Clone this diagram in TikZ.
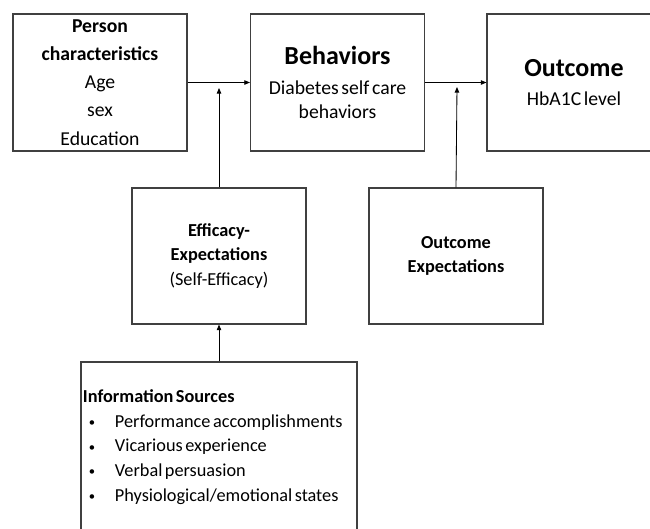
\documentclass[tikz,border=0pt]{standalone}
\usepackage{fontspec}
\setmainfont{Carlito}[WordSpace=0.6]
\usetikzlibrary{arrows.meta}

\tikzset{
  box/.style={draw=black!75, line width=0.8pt, align=center, inner sep=1.5pt,
    minimum width=4.35cm, minimum height=3.425cm},
  link/.style={-{Triangle[length=4pt,width=3.2pt]}, line width=0.6pt},
}
\newcommand{\bigfont}{\fontsize{14}{20}\selectfont}
\newcommand{\midfont}{\fontsize{13}{17.5}\selectfont}
\newcommand{\headfont}{\fontsize{18.5}{24}\selectfont}
\newcommand{\srcitem}[1]{\hspace*{0.15cm}\makebox[0.65cm][l]{\raisebox{0.6pt}{\fontsize{9}{9}\selectfont\textbullet}}#1}

\begin{document}
\begin{tikzpicture}[x=0.025cm, y=-0.025cm]
\path[use as bounding box] (0,0) rectangle (650,528);
\clip (0,0) rectangle (650,528);

%% top row
\node[box, font=\bigfont] (pers) at (100,82.5)
  {\textbf{Person}\\\textbf{characteristics}\\Age\\sex\\Education};
\node[box, font=\fontsize{14}{17}\selectfont] (beh) at (337.5,82.5)
  {{\headfont\textbf{Behaviors}}\\[4pt]Diabetes self care\\behaviors};
\node[box, font=\bigfont] (out) at (574,82.5)
  {{\headfont\textbf{Outcome}}\\[0.5pt]HbA1C level};

%% middle row
\node[box, font=\midfont, minimum height=3.4cm] (eff) at (219,256)
  {\textbf{Efficacy-}\\\textbf{Expectations}\\(Self-Efficacy)};
\node[box, font=\midfont, minimum height=3.4cm] (oexp) at (456,256)
  {\textbf{Outcome}\\\textbf{Expectations}};

%% sources
\node[box, font=\fontsize{13}{17.5}\selectfont, align=left, text width=6.8cm,
  inner sep=0.05cm, minimum width=6.9cm, minimum height=4.25cm] (info) at (219,447)
  {\spaceskip=0pt \textbf{Information Sources}\\
   \srcitem{Performance accomplishments}\\
   \srcitem{Vicarious experience}\\
   \srcitem{Verbal persuasion}\\
   \srcitem{Physiological/emotional states}};

%% junctions
\coordinate (j1) at (219,88);
\coordinate (j2) at (457,87);

%% arrows
\draw[link] (pers.east) -- (beh.west);
\draw[link] (beh.east) -- (out.west);
\draw[link] (eff.north) -- (j1);
\draw[link] (oexp.north) -- (j2);
\draw[link] (info.north) -- (eff.south);
\end{tikzpicture}
\end{document}
